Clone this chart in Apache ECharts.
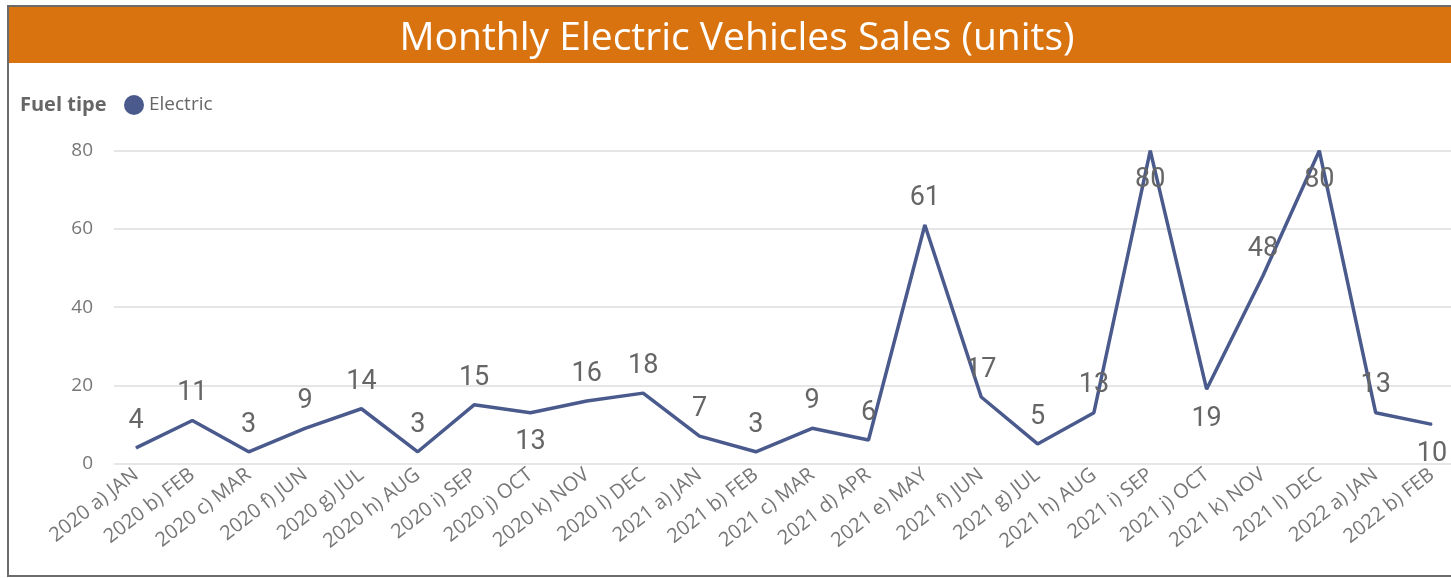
<!DOCTYPE html>
<html>
<head>
<meta charset="utf-8">
<script src="https://cdn.jsdelivr.net/npm/echarts@6/dist/echarts.min.js"></script>
<style>
html,body{margin:0;padding:0;background:#fff;}
#chart{width:1451px;height:578px;}
</style>
</head>
<body>
<div id="chart"></div>
<script>
const categories = ["2020 a) JAN","2020 b) FEB","2020 c) MAR","2020 f) JUN","2020 g) JUL","2020 h) AUG","2020 i) SEP","2020 j) OCT","2020 k) NOV","2020 l) DEC","2021 a) JAN","2021 b) FEB","2021 c) MAR","2021 d) APR","2021 e) MAY","2021 f) JUN","2021 g) JUL","2021 h) AUG","2021 i) SEP","2021 j) OCT","2021 k) NOV","2021 l) DEC","2022 a) JAN","2022 b) FEB"];
const electric = [4,11,3,9,14,3,15,13,16,18,7,3,9,6,61,17,5,13,80,19,48,80,13,10];
const yTicks = [0,20,40,60,80];
const seriesName = "Electric";
const legendTitle = "Fuel tipe";
const titleText = "Monthly Electric Vehicles Sales (units)";

const belowLabels = new Set([7,18,19,21,23]);
const lineColor = "#4A5A8D";
const labelFont = "Roboto, 'DejaVu Sans', sans-serif";
const uiFont = "'Open Sans', 'Noto Sans', sans-serif";

const chart = echarts.init(document.getElementById('chart'), null, {renderer:'canvas'});
const gridTop = 150.7, gridBottom = 578 - 463.5;

const option = {
  animation:false,
  backgroundColor:'#fff',
  graphic:[
    {type:'rect', shape:{x:8,y:6,width:1460,height:570}, style:{fill:'none',stroke:'#6b6b6b',lineWidth:2}, z:100},
    {type:'rect', shape:{x:9,y:7,width:1450,height:56}, style:{fill:'#D97310'}, z:1},
    {type:'text', x:737, y:39, style:{text:titleText, fill:'#fff', font:"39px "+uiFont, textAlign:'center', textVerticalAlign:'middle'}, z:2},
    {type:'text', x:20, y:105, style:{text:legendTitle, fill:'#666', font:"bold 20px "+uiFont, textVerticalAlign:'middle'}, z:2}
  ],
  legend:{
    data:[{name:seriesName, icon:'circle', itemStyle:{color:lineColor, opacity:1}}],
    left:124, top:95, padding:0, itemWidth:20, itemHeight:20, itemGap:10,
    textStyle:{color:'#666', fontSize:19, fontFamily:uiFont}
  },
  grid:[
    {left:136, right:19, top:gridTop, bottom:gridBottom},
    {left:114, right:0, top:gridTop, bottom:gridBottom}
  ],
  xAxis:[
    {type:'category', gridIndex:0, data:categories, boundaryGap:false,
     axisLine:{show:false}, axisTick:{show:false}, splitLine:{show:false},
     axisLabel:{rotate:38, margin:9, color:'#777', fontSize:20, fontFamily:uiFont, interval:0}},
    {type:'category', gridIndex:1, data:categories, show:false}
  ],
  yAxis:[
    {type:'value', gridIndex:0, min:0, max:80, interval:20, show:false, splitLine:{show:false}},
    {type:'value', gridIndex:1, min:yTicks[0], max:yTicks[yTicks.length-1], interval:20,
     axisLine:{show:false}, axisTick:{show:false},
     axisLabel:{margin:21, color:'#777', fontSize:19, fontFamily:uiFont},
     splitLine:{lineStyle:{color:'#e6e6e6', width:2}}}
  ],
  series:[{
    name:seriesName, type:'line', xAxisIndex:0, yAxisIndex:0,
    data: electric.map((v,i)=>({value:v, label: belowLabels.has(i) ? {position:'bottom', distance:16} : {position:'top', distance:13}})),
    symbol:'circle', symbolSize:1, showSymbol:true,
    itemStyle:{color:lineColor},
    lineStyle:{color:lineColor, width:3.5},
    label:{show:true, color:'#666', fontSize:27, fontFamily:labelFont},
    z:3
  }]
};
chart.setOption(option);
</script>
</body>
</html>
